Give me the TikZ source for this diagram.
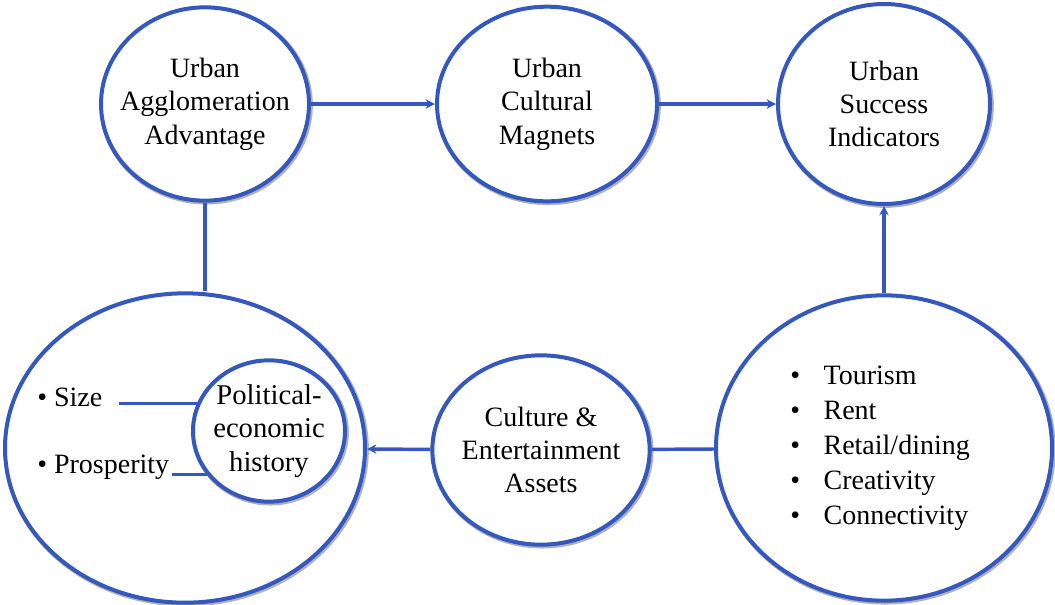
\documentclass[tikz,border=0pt]{standalone}
\usepackage{fontspec}
\setmainfont{Liberation Serif}
\usetikzlibrary{positioning,shapes.geometric,arrows.meta}
\definecolor{ringblue}{RGB}{52,88,190}

\begin{document}
\begin{tikzpicture}[x=0.75pt,y=-0.75pt,
   ring/.style={ellipse,draw=ringblue,line width=3pt,fill=white,inner xsep=-30pt,inner ysep=-5pt,
      align=center,font=\fontsize{21}{25}\selectfont,
      preaction={draw=black!30,line width=4pt,transform canvas={xshift=0.9pt,yshift=-0.9pt}}},
   link/.style={draw=ringblue,line width=2.6pt},
   tip/.style={-{Stealth[length=7pt,width=7pt]}},
   item/.style={font=\fontsize{21}{26.25}\selectfont,inner sep=0pt}]
   \useasboundingbox (0,0) rectangle (1055,604);
   % top row
   \node[ring,minimum width=156pt,minimum height=145pt] (uaa) at (205,104) {Urban\\Agglomeration\\Advantage};
   \node[ring,minimum width=165pt,minimum height=146pt] (ucm) at (547,104) {Urban\\Cultural\\Magnets};
   \node[ring,minimum width=159pt,minimum height=150pt] (usi) at (884,104) {Urban\\Success\\Indicators};
   % bottom row
   \node[ring,minimum width=270pt,minimum height=232pt] (hist) at (185,448) {};
   \node[ring,minimum width=114pt,minimum height=106pt,font=\fontsize{21.5}{25}\selectfont] (pol) at (269,431) {Political-\\economic\\history};
   \node[ring,minimum width=163pt,minimum height=142pt] (cea) at (541,450) {Culture \&\\Entertainment\\Assets};
   \node[ring,minimum width=252pt,minimum height=229pt] (ind) at (884,448) {};
   \node[item,anchor=west,align=left] (list) at (790,448)
      {\makebox[25pt][l]{\textbullet}Tourism\\
       \makebox[25pt][l]{\textbullet}Rent\\
       \makebox[25pt][l]{\textbullet}Retail/dining\\
       \makebox[25pt][l]{\textbullet}Creativity\\
       \makebox[25pt][l]{\textbullet}Connectivity};
   \node[item,anchor=west] (size) at (37,397) {\textbullet\ Size};
   \node[item,anchor=west] (prosp) at (37,467) {\textbullet\ Prosperity};
   % connectors
   \draw[link,tip] (uaa) -- (ucm);
   \draw[link,tip] (ucm) -- (usi);
   \draw[link] (uaa) -- (uaa |- hist.north);
   \draw[link,tip] (ind) -- (usi);
   \draw[link] (ind) -- (cea);
   \draw[link,tip] (cea) -- (hist);
   \draw[link] ([xshift=12pt]size.east |- pol.159) -- (pol.159);
   \draw[link] ([xshift=2pt]prosp.east |- pol.215) -- (pol.215);
\end{tikzpicture}
\end{document}
